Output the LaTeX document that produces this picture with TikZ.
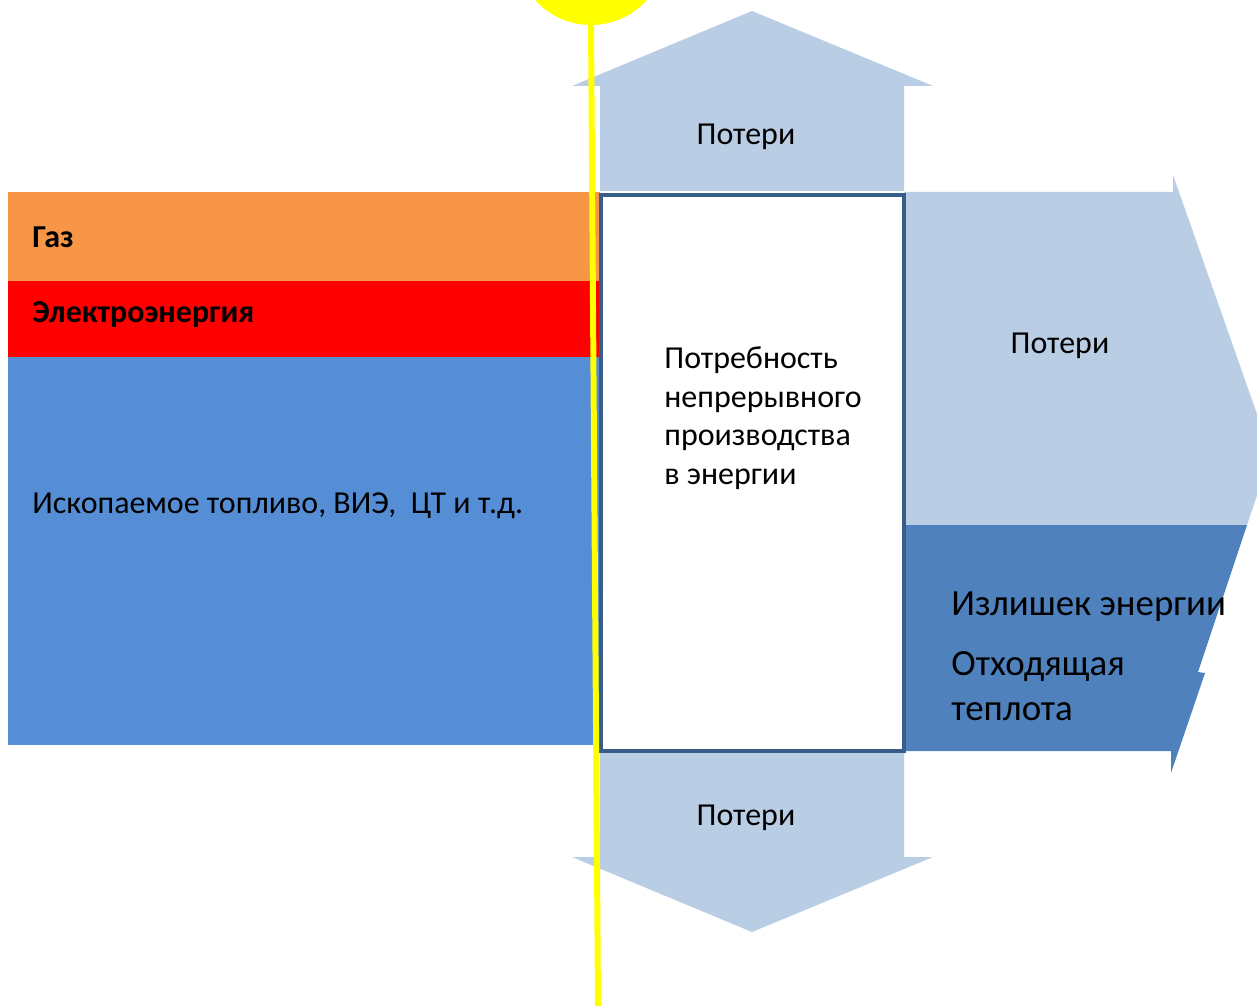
\documentclass[tikz,border=0pt]{standalone}
\usepackage{fontspec}
\setmainfont{Carlito}
\definecolor{gasorange}{HTML}{F79646}
\definecolor{powerred}{HTML}{FF0000}
\definecolor{fuelblue}{HTML}{558ED5}
\definecolor{lossblue}{HTML}{B9CDE5}
\definecolor{excessblue}{HTML}{4F81BD}
\definecolor{framecol}{HTML}{385D8A}
\definecolor{sunyellow}{HTML}{FFFF00}
\begin{document}
\begin{tikzpicture}[x=0.02cm,y=-0.02cm,
  lbl/.style={inner sep=0pt,anchor=base west,font=\fontsize{18.2}{22}\selectfont},
  lblc/.style={inner sep=0pt,anchor=base,font=\fontsize{18.2}{22}\selectfont},
  lblb/.style={lbl,font=\fontsize{18.2}{22}\selectfont\bfseries},
  lbll/.style={lbl,font=\fontsize{21}{26}\selectfont}]
\useasboundingbox (0,0) rectangle (1257,1006);
\begin{scope}
\clip (0,0) rectangle (1257,1006);
% input streams
\fill[gasorange] (8,192) rectangle (600,281);
\fill[powerred] (8,281) rectangle (600,357);
\fill[fuelblue] (8,357) rectangle (600,745);
% loss arrows up and down
\fill[lossblue] (600,191) -- (600,86) -- (572,86) -- (752,11) -- (933,86) -- (904,86) -- (904,191) -- cycle;
\fill[lossblue] (600,751) -- (600,857) -- (572,857) -- (752,932) -- (933,857) -- (904,857) -- (904,751) -- cycle;
% output arrow: losses and surplus
\fill[lossblue] (904,192) -- (1173,192) -- (1173,175) -- (1271,454) -- (1247,525) -- (904,525) -- cycle;
\fill[excessblue] (904,525) -- (1247,525) -- (1198,672) -- (1205,673) -- (1171,773) -- (1171,751) -- (904,751) -- cycle;
% sun
\fill[sunyellow] (591,-50) circle[radius=75];
\end{scope}
% demand box
\node[draw=framecol,line width=2.3pt,fill=white,minimum width=307*0.02cm-2.3pt,minimum height=560*0.02cm-2.3pt,inner sep=0pt,anchor=north west] (demand) at ([xshift=1.15pt,yshift=-1.15pt]597,191) {};
% labels
\node[lblb] (gas) at (32,248) {Газ};
\node[lblb] (power) at (32,323) {Электроэнергия};
\node[lbl] (fuel) at (32,513) {Ископаемое топливо, ВИЭ,\ \ ЦТ и т.д.};
\node[lbl,align=left,font=\fontsize{18.2}{21.9}\selectfont] (need) at (664,484) {Потребность\\непрерывного\\производства\\в энергии};
\node[lblc] (losstop) at (746,145) {Потери};
\node[lblc] (lossbottom) at (746,825) {Потери};
\node[lblc] (lossright) at (1060,354) {Потери};
\node[lbll] (surplus) at (951,615) {Излишек энергии};
\node[lbll,align=left,font=\fontsize{21}{25.3}\selectfont] (waste) at (951,720) {Отходящая\\теплота};
% vertical marker from the sun
\draw[sunyellow,line width=3.4pt] (591,25) -- (598,1006);
\end{tikzpicture}
\end{document}
